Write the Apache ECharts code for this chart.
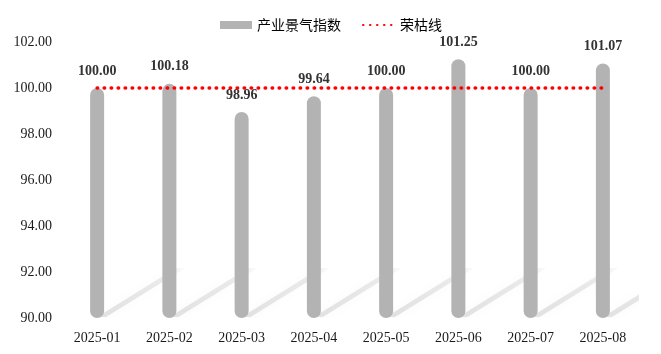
<!DOCTYPE html>
<html>
<head>
<meta charset="utf-8">
<script src="https://cdn.jsdelivr.net/npm/echarts@6/dist/echarts.min.js"></script>
<style>
  html, body { margin: 0; padding: 0; background: #fff; }
  #chart { width: 661px; height: 354px; }
</style>
</head>
<body>
<div id="chart"></div>
<script>
// 数据
const months = ['2025-01', '2025-02', '2025-03', '2025-04', '2025-05', '2025-06', '2025-07', '2025-08']
const indexValues = [100.00, 100.18, 98.96, 99.64, 100.00, 101.25, 100.00, 101.07]
const boomLine = [100, 100, 100, 100, 100, 100, 100, 100]
const yMin = 90
const yMax = 102

let myChart = echarts.init(document.getElementById('chart'))

// 柱子底部的斜向阴影
function renderShadow(params, api) {
  let p = api.coord([api.value(0), yMin])
  let x = p[0], y = p[1]
  return {
    type: 'polygon',
    shape: {
      points: [[x, y - 1], [x + 9, y - 1], [x + 88, y - 50], [x + 79, y - 50]]
    },
    style: {
      fill: new echarts.graphic.LinearGradient(0, 1, 1, 0, [
        { offset: 0, color: 'rgba(0,0,0,0.11)' },
        { offset: 0.7, color: 'rgba(0,0,0,0.08)' },
        { offset: 1, color: 'rgba(0,0,0,0.02)' }
      ]),
      shadowBlur: 10,
      shadowColor: 'rgba(0,0,0,0.25)'
    }
  }
}

let option = {
  backgroundColor: '#fff',
  animation: false,
  grid: {
    top: 42,
    bottom: 36,
    left: 61,
    right: 22
  },
  legend: {
    top: 13,
    left: 215,
    itemWidth: 32,
    itemHeight: 8,
    itemGap: 21,
    textStyle: {
      fontFamily: 'Noto Sans CJK SC',
      fontSize: 14,
      color: '#000'
    },
    data: [
      { name: '产业景气指数', icon: 'rect' },
      { name: '荣枯线', itemStyle: { opacity: 0 } }
    ]
  },
  xAxis: {
    type: 'category',
    data: months,
    axisLine: { show: false },
    axisTick: { show: false },
    axisLabel: {
      fontFamily: 'Liberation Serif',
      fontSize: 14,
      color: '#1a1a1a',
      margin: 13
    }
  },
  yAxis: {
    type: 'value',
    min: yMin,
    max: yMax,
    interval: 2,
    splitLine: { show: false },
    axisLine: { show: false },
    axisTick: { show: false },
    axisLabel: {
      formatter: v => v.toFixed(2),
      fontFamily: 'Liberation Serif',
      fontSize: 14,
      color: '#1a1a1a',
      margin: 9
    }
  },
  series: [
    {
      type: 'custom',
      z: 1,
      silent: true,
      clip: true,
      renderItem: renderShadow,
      data: months.map((m, i) => [i]),
      encode: { x: 0 }
    },
    {
      name: '产业景气指数',
      type: 'bar',
      z: 2,
      barWidth: 14,
      itemStyle: {
        color: '#b3b3b3',
        borderRadius: 7
      },
      label: {
        show: true,
        position: 'top',
        distance: 10,
        formatter: p => p.value.toFixed(2),
        fontFamily: 'Liberation Serif',
        fontWeight: 'bold',
        fontSize: 14,
        color: '#333'
      },
      data: indexValues
    },
    {
      name: '荣枯线',
      type: 'line',
      z: 3,
      symbol: 'none',
      color: '#ff0000',
      lineStyle: {
        color: '#ff0000',
        width: 3.5,
        type: [0.5, 6.5],
        cap: 'round'
      },
      data: boomLine
    }
  ]
}
myChart.setOption(option)
</script>
</body>
</html>
